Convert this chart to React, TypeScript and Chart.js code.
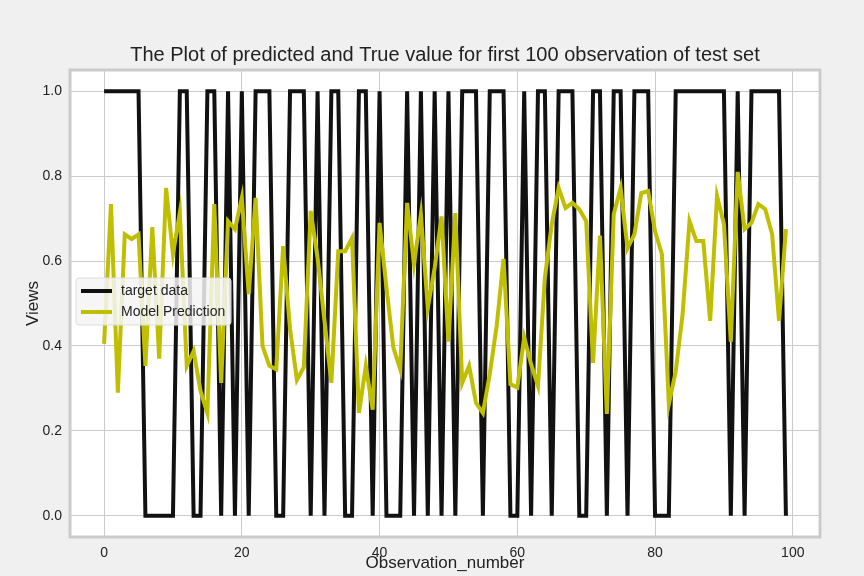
import { useEffect, useRef } from "react";
import { Chart, registerables } from "chart.js";

Chart.register(...registerables);

const observations = Array.from({ length: 100 }, (_, i) => i);

const targetData = [
  1, 1, 1, 1, 1, 1, 0, 0, 0, 0, 0, 1, 1, 0, 0, 1, 1, 0, 1, 0,
  1, 0, 1, 1, 1, 0, 0, 1, 1, 1, 0, 1, 0, 1, 1, 0, 0, 1, 1, 0,
  1, 0, 0, 0, 1, 0, 1, 0, 1, 0, 1, 0, 1, 1, 1, 0, 1, 1, 1, 0,
  0, 1, 0, 1, 1, 0, 1, 1, 1, 0, 0, 1, 1, 0, 1, 1, 0, 1, 1, 1,
  0, 0, 0, 1, 1, 1, 1, 1, 1, 1, 1, 0, 1, 0, 1, 1, 1, 1, 1, 0,
];

const modelPrediction = [
  0.405, 0.734, 0.29, 0.663, 0.652, 0.663, 0.353, 0.68, 0.37, 0.772,
  0.616, 0.715, 0.353, 0.388, 0.294, 0.242, 0.734, 0.313, 0.694, 0.675,
  0.749, 0.522, 0.749, 0.4, 0.353, 0.345, 0.635, 0.44, 0.32, 0.35,
  0.718, 0.607, 0.46, 0.313, 0.623, 0.623, 0.654, 0.242, 0.353, 0.25,
  0.69, 0.537, 0.396, 0.345, 0.737, 0.593, 0.71, 0.49, 0.584, 0.705,
  0.41, 0.713, 0.313, 0.353, 0.266, 0.242, 0.334, 0.447, 0.605, 0.31,
  0.302, 0.42, 0.357, 0.306, 0.56, 0.687, 0.772, 0.725, 0.737, 0.722,
  0.694, 0.36, 0.66, 0.24, 0.71, 0.772, 0.63, 0.663, 0.76, 0.765,
  0.67, 0.616, 0.263, 0.34, 0.475, 0.694, 0.647, 0.647, 0.459, 0.753,
  0.687, 0.41, 0.81, 0.675, 0.69, 0.734, 0.722, 0.663, 0.459, 0.675,
];

const xTicks = [0, 20, 40, 60, 80, 100];
const yTicks = [0, 0.2, 0.4, 0.6, 0.8, 1.0];

const seriesNames = ["target data", "Model Prediction"];
const seriesColors = ["#111111", "#bfbf00"];

const FONT = "'Liberation Sans', Arial, sans-serif";

const decorPlugin = {
  id: "decor",
  beforeDraw(chart: Chart) {
    const { ctx, chartArea } = chart;
    ctx.save();
    ctx.fillStyle = "#ffffff";
    ctx.fillRect(chartArea.left, chartArea.top, chartArea.right - chartArea.left, chartArea.bottom - chartArea.top);
    ctx.restore();
  },
  afterDraw(chart: Chart) {
    const { ctx, chartArea } = chart;
    const { left, right, top, bottom } = chartArea;
    ctx.save();
    // frame
    ctx.strokeStyle = "#cbcbcb";
    ctx.lineWidth = 3;
    ctx.strokeRect(left, top, right - left, bottom - top);
    // title
    ctx.fillStyle = "#222";
    ctx.textAlign = "center";
    ctx.textBaseline = "middle";
    ctx.font = `20px ${FONT}`;
    ctx.fillText(
      "The Plot of predicted and True value for first 100 observation of test set",
      (left + right) / 2,
      55
    );
    ctx.font = `17px ${FONT}`;
    ctx.fillStyle = "#222";
    ctx.fillText("Observation_number", (left + right) / 2, 563);
    ctx.translate(33, (top + bottom) / 2);
    ctx.rotate(-Math.PI / 2);
    ctx.fillText("Views", 0, 0);
    ctx.restore();

    // legend
    ctx.save();
    const lx = 76, ly = 278, lw = 155, lh = 47;
    ctx.fillStyle = "rgba(245,245,245,0.85)";
    ctx.strokeStyle = "#dddddd";
    ctx.lineWidth = 1;
    ctx.beginPath();
    ctx.roundRect(lx, ly, lw, lh, 3);
    ctx.fill();
    ctx.stroke();
    ctx.font = `14px ${FONT}`;
    ctx.textBaseline = "middle";
    seriesNames.forEach((name, i) => {
      const y = ly + 13 + i * 21;
      ctx.strokeStyle = seriesColors[i];
      ctx.lineWidth = 4;
      ctx.beginPath();
      ctx.moveTo(lx + 5, y);
      ctx.lineTo(lx + 36, y);
      ctx.stroke();
      ctx.fillStyle = "#222";
      ctx.fillText(name, lx + 45, y);
    });
    ctx.restore();
  },
};

const App = () => {
  const chartRef = useRef<HTMLCanvasElement>(null);

  useEffect(() => {
    const ctx = chartRef.current?.getContext("2d");
    if (!ctx) return;
    document.body.style.margin = "0";
    document.body.style.background = "#f0f0f0";

    const chart = new Chart(ctx, {
      type: "line",
      data: {
        labels: observations,
        datasets: [
          {
            label: seriesNames[0],
            data: observations.map((x, i) => ({ x, y: targetData[i] })),
            borderColor: seriesColors[0],
            borderWidth: 4,
            pointRadius: 0,
            tension: 0,
            order: 2,
          },
          {
            label: seriesNames[1],
            data: observations.map((x, i) => ({ x, y: modelPrediction[i] })),
            borderColor: seriesColors[1],
            borderWidth: 4,
            pointRadius: 0,
            tension: 0,
            order: 1,
          },
        ],
      },
      options: {
        animation: false,
        responsive: false,
        layout: { padding: { top: 70, right: 44, left: 0, bottom: 0 } },
        plugins: {
          legend: { display: false },
          title: { display: false },
          tooltip: { enabled: false },
        },
        scales: {
          x: {
            type: "linear",
            min: -4.95,
            max: 103.95,
            afterBuildTicks: (s: any) => {
              s.ticks = xTicks.map((v) => ({ value: v }));
            },
            afterFit: (s: any) => {
              s.height = 39;
            },
            grid: { color: "#cbcbcb", drawTicks: false },
            border: { display: false },
            ticks: {
              padding: 8,
              color: "#222",
              font: { size: 14, family: FONT },
              callback: (v: any) => String(v),
            },
          },
          y: {
            min: -0.05,
            max: 1.05,
            afterBuildTicks: (s: any) => {
              s.ticks = yTicks.map((v) => ({ value: v }));
            },
            afterFit: (s: any) => {
              s.width = 70;
            },
            grid: { color: "#cbcbcb", drawTicks: false },
            border: { display: false },
            ticks: {
              padding: 8,
              color: "#222",
              font: { size: 14, family: FONT },
              callback: (v: any) => Number(v).toFixed(1),
            },
          },
        },
      },
      plugins: [decorPlugin],
    });

    return () => chart.destroy();
  }, []);

  return (
    <div style={{ width: 864, height: 576, background: "#f0f0f0" }}>
      <canvas ref={chartRef} width={864} height={576} />
    </div>
  );
};

export default App;
